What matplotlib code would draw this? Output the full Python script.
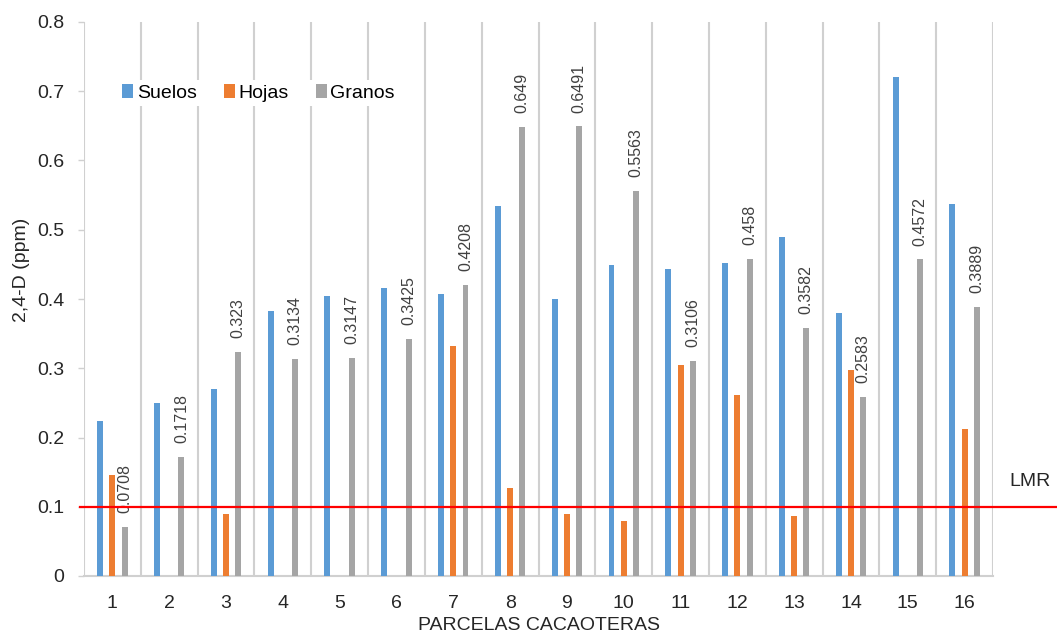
import numpy as np
import matplotlib
matplotlib.use("Agg")
import matplotlib.pyplot as plt
from matplotlib.transforms import blended_transform_factory

plt.rcParams["font.family"] = ["Liberation Sans", "DejaVu Sans"]

# ── Data ──────────────────────────────────────────────────────
parcelas = [str(i) for i in range(1, 17)]
suelos = [0.224, 0.250, 0.270, 0.382, 0.404, 0.416, 0.407, 0.535,
          0.400, 0.449, 0.443, 0.452, 0.490, 0.380, 0.720, 0.537]
hojas = [0.146, 0.0, 0.090, 0.0, 0.0, 0.0, 0.332, 0.127,
         0.089, 0.079, 0.305, 0.262, 0.086, 0.298, 0.0, 0.212]
granos = [0.0708, 0.1718, 0.323, 0.3134, 0.3147, 0.3425, 0.4208, 0.649,
          0.6491, 0.5563, 0.3106, 0.458, 0.3582, 0.2583, 0.4572, 0.3889]
granos_labels = ["0.0708", "0.1718", "0.323", "0.3134", "0.3147", "0.3425",
                 "0.4208", "0.649", "0.6491", "0.5563", "0.3106", "0.458",
                 "0.3582", "0.2583", "0.4572", "0.3889"]
lmr = 0.1

C_SUELOS = "#5B9BD5"
C_HOJAS = "#ED7D31"
C_GRANOS = "#A5A5A5"
GRID = "#D0D0D0"

# ── Plot ──────────────────────────────────────────────────────
fig = plt.figure(figsize=(10.57, 6.43), dpi=100)
ax = fig.add_axes([84 / 1057, 67 / 643, 909 / 1057, 554 / 643])

x = np.arange(len(parcelas))
w = 0.105
off = 0.215
ax.bar(x - off, suelos, w, color=C_SUELOS, label="Suelos", zorder=3)
ax.bar(x, hojas, w, color=C_HOJAS, label="Hojas", zorder=3)
ax.bar(x + off, granos, w, color=C_GRANOS, label="Granos", zorder=3)

for xi, v, lab in zip(x, granos, granos_labels):
    ax.annotate(lab, (xi + off, v), xytext=(0, 10), textcoords="offset points",
                rotation=90, ha="center", va="bottom", fontsize=11.5,
                color="#404040", zorder=4)

# category separators
for b in np.arange(-0.5, len(parcelas), 1.0):
    ax.axvline(b, color=GRID, lw=1.5, zorder=1)

ax.set_xlim(-0.5, len(parcelas) - 0.5)
ax.set_ylim(0, 0.8)
ax.set_yticks(np.arange(0, 0.81, 0.1))
ax.set_yticklabels(["0"] + [f"{v:.1f}" for v in np.arange(0.1, 0.81, 0.1)])
ax.set_xticks(x)
ax.set_xticklabels(parcelas)
ax.tick_params(axis="x", length=0, pad=14, labelsize=14, colors="#262626")
ax.tick_params(axis="y", length=4, width=1, color=GRID, pad=10,
               labelsize=14, labelcolor="#262626")
for s in ["top", "right", "left"]:
    ax.spines[s].set_visible(False)
ax.spines["bottom"].set_color(GRID)
ax.spines["bottom"].set_linewidth(1.5)

# LMR line extends past the plot area
tr = blended_transform_factory(fig.transFigure, ax.transData)
ax.plot([80 / 1057, 1.0], [lmr, lmr], color="red", lw=1.6,
        transform=tr, clip_on=False, zorder=5)
ax.text(1009 / 1057, 0.137, "LMR", transform=tr, fontsize=14,
        color="#262626", va="center", ha="left",
        bbox=dict(facecolor="white", edgecolor="none", pad=6))

leg = ax.legend(loc="center left", bbox_to_anchor=(0.027, 0.872), ncol=3,
                frameon=True, fontsize=14, handlelength=0.55,
                handleheight=0.7, handletextpad=0.2, columnspacing=1.4,
                borderpad=0.2)
leg.get_frame().set_edgecolor("none")
leg.get_frame().set_facecolor("white")
leg.get_frame().set_alpha(1)
leg.set_zorder(6)

fig.text(22 / 1057, 1 - 270 / 643, "2,4-D (ppm)", rotation=90,
         ha="center", va="center", fontsize=14, color="#262626")
fig.text(539 / 1057, 1 - 626 / 643, "PARCELAS CACAOTERAS",
         ha="center", va="center", fontsize=14, color="#262626")

fig.savefig("out.png", dpi=100)
